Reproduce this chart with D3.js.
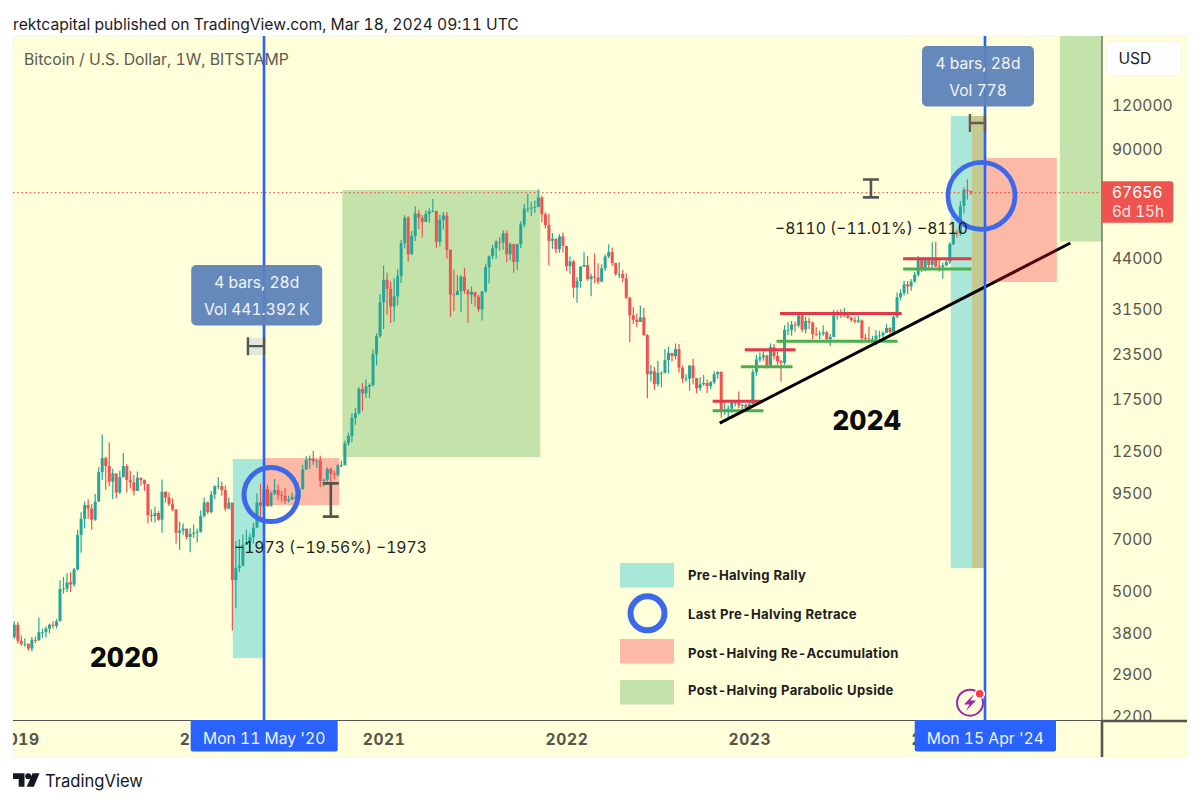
<!DOCTYPE html>
<html><head><meta charset="utf-8">
<script src="https://cdn.jsdelivr.net/npm/d3@7/dist/d3.min.js"></script>
<style>html,body{margin:0;padding:0;background:#fff}svg{display:block}text{font-family:Inter,"Noto Sans",sans-serif;font-variant-numeric:tabular-nums}</style>
</head><body><svg id="c" width="1200" height="804"></svg>
<script>
// weekly candles: [close, high, low]; open = previous close
const firstOpen = 3690;
const candles2019 = [[4000,4090,3650],[3600,4080,3530],[3530,3730,3480],[3530,3660,3460],[3420,3530,3380],[3620,3690,3360],[3610,3700,3550],[3810,4190,3600],[3810,3900,3670],[3900,3950,3680],[4000,4030,3780],[3970,4090,3900],[4090,4150,3900],[5050,5350,4090],[5060,5470,4900],[5280,5600,4950],[5200,5650,4950],[5750,5800,5130],[7200,7450,5700],[8000,8350,6400],[8750,8950,7500],[8550,9090,8000],[7950,8800,7450],[8950,9400,7900],[10850,11200,8950],[11900,13880,10300],[11300,12000,9650],[10200,13200,9900],[10770,11100,9100],[9500,10650,9150],[10500,10950,9400],[11300,12300,10500],[10300,11450,9500],[10150,10950,9750],[9600,10650,9320],[10470,10900,9600],[10300,10450,9950],[10030,10350,9600],[8200,10050,7750],[8150,8500,7850],[8300,8650,7800],[7950,8420,7900],[9550,10350,7300],[9200,9550,8900],[8800,9500,8700],[8500,9150,8400],[7300,8500,6800],[7400,7850,6530],[7500,7750,7200],[7100,7450,6980],[7250,7520,6430],[7300,7700,7050]];
const candles2020 = [[7350,7500,6850],[8150,8450,7300],[8900,9190,8050],[8350,8950,8250],[9370,9600,8300],[9900,9950,9100],[9900,10500,9700],[9650,10200,9300],[8550,9950,8400],[8900,9190,8500],[5350,8200,3850],[5800,6900,4450],[5880,6990,5650],[6750,7200,5850],[6850,7450,6750],[7100,7280,6450],[7550,7800,6800],[8900,9450,7550],[8700,10070,8100],[9700,9950,8200],[8700,10000,8650],[9450,9600,8650],[9650,10380,9350],[9350,10000,9050],[9300,9600,8920],[9000,9800,8820],[9070,9300,8900],[9230,9480,9050],[9160,9300,8900],[9700,9800,9130],[11050,11400,9700],[11750,12050,11000],[11850,12100,11100],[11650,12480,11400],[11700,11800,11150],[10250,12080,9850],[10320,10420,9900],[11080,11200,10200],[10750,11180,10150],[10670,10950,10380],[11350,11450,10550],[11360,11700,11200],[13100,13350,11350],[13750,14050,12900],[15480,15950,13200],[15970,16500,14800],[18700,18950,15800],[18170,19450,16200],[19000,19900,17650],[19200,19400,17650],[23500,24250,19000],[26400,26900,21800]];
const candles2021 = [[33000,34800,26200],[38200,41950,27700],[36000,40000,30400],[32100,37850,28800],[34300,38600,29100],[39200,40950,32300],[48600,49700,37400],[57400,58300,47000],[45200,58000,43000],[50900,52600,45000],[59000,61800,49300],[57400,60600,53300],[55800,58400,50400],[58800,60200,56800],[59800,61100,55500],[60000,64900,59500],[49000,57500,47000],[56600,58500,47500],[58200,59600,53000],[46500,59600,43900],[34700,46700,30000],[34600,40900,31100],[35500,39400,34800],[39000,39400,31000],[35600,41300,34900],[34700,36000,28800],[35300,36600,32700],[34200,35200,32100],[31500,34700,31000],[35400,35500,29300],[41500,42500,35200],[44600,44800,37300],[47000,48100,43700],[49000,49700,43900],[48800,50500,46300],[51800,52900,46600],[45200,52800,42800],[48300,48800,43400],[43000,47400,40000],[48200,48500,40700],[54900,56100,47100],[60900,62900,53900],[60900,67000,59500],[61300,63700,57900],[61500,64200,59200],[65500,69000,62800],[58700,66300,55600],[54700,59500,53500],[49300,59000,42000],[50000,51900,46800],[46700,50200,45500],[50800,51500,45600],[47700,52100,45700]];
const candles2022 = [[41800,47600,40500],[43100,44500,39700],[36300,43500,34000],[37900,38900,32900],[41600,41900,36300],[42100,45800,41700],[38400,44700,38000],[39100,39800,34300],[38800,45400,37400],[37800,42600,37100],[41200,42300,37600],[44500,45100,40500],[45800,48200,44000],[42700,47200,41900],[39700,41500,39200],[39700,42900,38600],[38600,40800,37600],[34000,39900,33700],[30300,34200,25400],[29400,32000,28600],[29000,30600,28000],[29900,32300,29300],[26600,31800,26500],[20600,26800,17600],[21000,21900,19600],[19300,21600,18600],[20800,22500,19000],[20800,21000,18900],[22600,24300,20700],[23700,24700,20700],[23200,23500,22400],[24300,25200,22700],[21500,25100,20800],[20000,21800,19500],[20000,20600,19600],[21800,21900,18500],[20100,22800,19300],[18800,19700,18200],[19300,20200,18500],[19450,20500,19100],[19050,19900,18200],[19550,19700,18700],[20600,21000,19300],[20900,21000,20000],[16300,21000,15500],[16300,17100,15800],[16450,16800,15400],[17100,17400,16000],[17100,17400,16700],[16800,18400,16500],[16850,16950,16300],[16550,16950,16300]];
const candles2023 = [[16950,17300,16500],[20900,21300,17300],[22700,23400,20400],[23000,23800,22300],[23300,24200,22500],[21800,23400,21400],[24600,25200,21500],[23200,25100,22700],[22400,23900,21900],[22200,22600,19600],[27500,28400,21900],[27500,29000,26600],[28500,29200,26500],[28350,29100,27200],[30300,31000,28000],[27600,30500,27100],[29200,30000,26900],[28900,29800,27700],[26800,29100,25900],[26750,28000,26400],[26850,27400,25900],[27100,28400,26500],[25900,27400,25400],[26300,26800,24800],[30500,31400,26300],[30500,31300,29500],[30300,31500,29800],[30300,31800,29900],[29800,30400,29600],[29350,30000,29000],[29050,30000,28700],[29300,30200,28800],[26100,29500,25200],[26000,26800,25400],[25900,28100,25400],[25900,26500,25400],[26500,27500,24900],[26550,27400,26000],[27000,27300,26000],[27900,28600,27200],[27150,28000,26500],[30000,30300,26900],[34100,35200,29700],[35000,35900,33400],[37100,38000,34500],[36600,37900,34800],[37800,38400,35600],[39500,40200,37500],[43800,44700,39000],[41300,44000,40200],[43700,44300,40500],[42100,43700,41300]];
const candles2024 = [[43900,48900,40700],[41700,49000,41500],[41600,43600,40300],[42000,42800,38500],[43000,43900,41800],[48300,48900,42400],[52100,52800,47900],[51700,53000,50500],[62000,64000,50900],[68900,70100,59000],[68400,73800,64600],[67656,68100,66600]];
const firstWeek = "2018-12-31";

const priceTicks = [120000,90000,44000,31500,23500,17500,12500,9500,7000,5000,3800,2900,2200];
const yearTicks = ["2019-01-07","2020-01-06","2021-01-04","2022-01-03","2023-01-02","2024-01-01"];
const lastPrice = 67656;

// annotations in chart units: [date, date, price, price]
const tealZones = [["2020-03-10","2020-05-11",11824,3214],["2024-02-07","2024-03-20",111660,5791]];
const oliveZones = [["2024-03-20","2024-04-15",111660,5791]];
const redZones = [["2020-05-11","2020-10-08",11900,8750],["2024-04-15","2024-09-05",84800,37670]];
const greenZones = [["2020-10-14","2021-11-12",68790,11976],["2024-09-11","2024-12-06",188500,49100]];
const resistance = [["2022-10-21","2023-01-30",17250],["2022-12-24","2023-04-04",24180],["2023-03-04","2023-11-01",30680],["2023-11-04","2024-03-19",43870]];
const support = [["2022-10-21","2023-01-30",16220],["2022-12-16","2023-03-29",21630],["2023-02-25","2023-10-24",25550],["2023-11-04","2024-03-19",41000]];
const trend = [["2022-11-04",14960],["2024-10-02",48620]];
const halvings = ["2020-05-11","2024-04-15"];
const retraces = [["2020-05-25",9370],["2024-04-08",66230]];
const timeSpans = [["2020-04-09","2020-05-11",24760],["2024-03-16","2024-04-15",106660]];
const priceSpans = [["2020-09-21",10087,8114],["2023-09-01",73660,65550]];
const legendItems = ["Pre-Halving Rally","Last Pre-Halving Retrace","Post-Halving Re-Accumulation","Post-Halving Parabolic Upside"];

const D = s => new Date(s + "T00:00:00Z");
const x = d3.scaleUtc().domain([D(halvings[0]), D(halvings[1])]).range([264, 985]);
const y = d3.scaleLog().domain([2200, 120000]).range([716, 105]);

const allCandles = [].concat(candles2019,candles2020,candles2021,candles2022,candles2023,candles2024);
let prev = firstOpen;
const bars = allCandles.map((c,i) => {
  const b = {date:d3.utcMonday.offset(D(firstWeek), i), open:prev, close:c[0], high:c[1], low:c[2]};
  prev = c[0]; return b;
});

const UP = "#26a69a", DOWN = "#ef5350", BG = "#ffffd9", BLUE = "#2962ff", RING = "#3c69ec", GREY = "#555550";
const svg = d3.select("#c");
svg.append("defs").append("clipPath").attr("id","pane").append("rect").attr("x",13).attr("y",36).attr("width",1089).attr("height",685);
svg.select("defs").append("clipPath").attr("id","tax").append("rect").attr("x",13).attr("y",721).attr("width",1089).attr("height",36);

svg.append("text").attr("x",13).attr("y",30).attr("font-size",15.65).attr("fill","#1c1c1c").text("rektcapital published on TradingView.com, Mar 18, 2024 09:11 UTC");
svg.append("rect").attr("x",13).attr("y",36).attr("width",1174).attr("height",721).attr("fill",BG).attr("stroke","#f4f4ec");

const pane = svg.append("g").attr("clip-path","url(#pane)");
const zone = (g, list, fill, op) => g.selectAll(null).data(list).join("rect")
  .attr("x",d=>x(D(d[0]))).attr("width",d=>x(D(d[1]))-x(D(d[0])))
  .attr("y",d=>y(d[2])).attr("height",d=>y(d[3])-y(d[2])).attr("fill",fill).attr("fill-opacity",op||1);

pane.append("text").attr("x",24).attr("y",65).attr("font-size",15.8).attr("fill","#5b5b50").text("Bitcoin / U.S. Dollar, 1W, BITSTAMP");

zone(pane, tealZones, "#a9e8d8");
zone(pane, oliveZones, "#c3c98f");
zone(pane, greenZones, "#c3e3ab");
zone(pane, [redZones[0]], "#fcb9a5");

// last-price dotted line
pane.append("line").attr("x1",13).attr("x2",1102).attr("y1",y(lastPrice)).attr("y2",y(lastPrice))
  .attr("stroke",DOWN).attr("stroke-width",1.2).attr("stroke-dasharray","1.4 2.8");

const hLines = (list, col) => pane.selectAll(null).data(list).join("line")
  .attr("x1",d=>x(D(d[0]))).attr("x2",d=>x(D(d[1]))).attr("y1",d=>y(d[2])).attr("y2",d=>y(d[2]))
  .attr("stroke",col).attr("stroke-width",3);

// candles
const cg = pane.append("g");
cg.selectAll("line").data(bars).join("line")
  .attr("x1",d=>x(d.date)).attr("x2",d=>x(d.date)).attr("y1",d=>y(d.high)).attr("y2",d=>y(d.low))
  .attr("stroke",d=>d.close>=d.open?UP:DOWN).attr("stroke-width",1.2);
cg.selectAll("rect").data(bars).join("rect")
  .attr("x",d=>x(d.date)-1.5).attr("width",3)
  .attr("y",d=>y(Math.max(d.open,d.close))).attr("height",d=>Math.max(0.8,Math.abs(y(d.open)-y(d.close))))
  .attr("fill",d=>d.close>=d.open?UP:DOWN);

hLines(resistance,"#e4374a");
hLines(support,"#4bae4f");

// trend line beneath the translucent red zone
pane.append("line").attr("x1",x(D(trend[0][0]))).attr("y1",y(trend[0][1])).attr("x2",x(D(trend[1][0]))).attr("y2",y(trend[1][1]))
  .attr("stroke","#000").attr("stroke-width",3);
zone(pane, [redZones[1]], "rgb(245,22,46)", 0.3);

// halving lines
pane.selectAll(null).data(halvings).join("line")
  .attr("x1",d=>x(D(d))).attr("x2",d=>x(D(d))).attr("y1",36).attr("y2",721)
  .attr("stroke",BLUE).attr("stroke-width",2.6);

// measure tools
const tsG = pane.append("g");
tsG.append("rect").attr("x",x(D(timeSpans[0][0]))).attr("width",x(D(timeSpans[0][1]))-x(D(timeSpans[0][0])))
  .attr("y",y(timeSpans[0][2])-8).attr("height",17).attr("fill","#dfe9dc");
timeSpans.forEach((s,i)=>{
  const x0=x(D(s[0])), x1=x(D(s[1])), yy=y(s[2]), col=i?"#6b5b4c":GREY;
  tsG.append("path").attr("d",`M${x0},${yy-9}V${yy+9}M${x0},${yy}H${x1}M${x1},${yy-9}V${yy+9}`)
    .attr("fill","none").attr("stroke",col).attr("stroke-width",2.4);
});
priceSpans.forEach(s=>{
  const xx=x(D(s[0])), y0=y(s[1]), y1=y(s[2]);
  pane.append("path").attr("d",`M${xx-8},${y0}H${xx+8}M${xx},${y0}V${y1}M${xx-8},${y1}H${xx+8}`)
    .attr("fill","none").attr("stroke",GREY).attr("stroke-width",2.6);
});

// retrace circles
pane.selectAll(null).data(retraces).join("circle")
  .attr("cx",d=>x(D(d[0]))).attr("cy",d=>y(d[1])).attr("r",(d,i)=>i?33.5:27)
  .attr("fill","none").attr("stroke",RING).attr("stroke-width",(d,i)=>i?4.8:5);

// measure labels
const bubble = (cx, y0, w, l1, l2) => {
  const g = pane.append("g");
  g.append("rect").attr("x",cx-w/2).attr("y",y0).attr("width",w).attr("height",60.5).attr("rx",5)
    .attr("fill","#5c82ba").attr("fill-opacity",0.94);
  g.append("text").attr("x",cx).attr("y",y0+23).attr("text-anchor","middle").attr("font-size",15.6).attr("fill","#f2f5fa").text(l1);
  g.append("text").attr("x",cx).attr("y",y0+49.5).attr("text-anchor","middle").attr("font-size",15.6).attr("fill","#f2f5fa").text(l2);
};
bubble(256.7, 265, 131, "4 bars, 28d", "Vol 441.392\u2009K");
bubble(978, 46, 112, "4 bars, 28d", "Vol 778");

pane.append("text").attr("x",234).attr("y",553).attr("font-size",15.7).attr("fill","#1f1f1f").text("\u22121973 (\u221219.56%) \u22121973");
pane.append("text").attr("x",775).attr("y",234).attr("font-size",15.7).attr("fill","#1f1f1f").text("\u22128110 (\u221211.01%) \u22128110");

pane.append("text").attr("x",124).attr("y",667).attr("text-anchor","middle").attr("font-size",26.6).attr("font-weight",800).attr("fill","#0c0c0c").text("2020");
pane.append("text").attr("x",866.5).attr("y",430).attr("text-anchor","middle").attr("font-size",26.6).attr("font-weight",800).attr("fill","#0c0c0c").text("2024");

// legend
const lg = pane.append("g");
const lgY = [563,null,639,680], lgCol = ["#a9e8d8",null,"#fcb9a5","#c3e3ab"], lgT = [579.5,618.5,657.5,694.5];
lgY.forEach((v,i)=>{ if(v!==null) lg.append("rect").attr("x",620).attr("y",v).attr("width",54).attr("height",24.5).attr("fill",lgCol[i]); });
lg.append("circle").attr("cx",647.5).attr("cy",613.3).attr("r",17).attr("fill","none").attr("stroke",RING).attr("stroke-width",6);
lg.selectAll("text").data(legendItems).join("text").attr("x",688).attr("y",(d,i)=>lgT[i])
  .attr("font-size",13.1).attr("font-weight",700).attr("fill","#1d1d1d").style("letter-spacing","0.28px").text(d=>d);

// alert icon
const ic = pane.append("g");
ic.append("circle").attr("cx",970).attr("cy",702.7).attr("r",13).attr("fill",BG).attr("stroke","#9c27b0").attr("stroke-width",2);
ic.append("path").attr("d","M974,694L964,704.5H969.5L965.5,711.5L976,700.5H970.5Z").attr("fill","#9c27b0");
ic.append("circle").attr("cx",979.7).attr("cy",693.7).attr("r",4.6).attr("fill","#ff3b4a").attr("stroke","#fff").attr("stroke-width",1.6);

// price axis
const pa = svg.append("g").attr("transform","translate(1102,0)")
  .call(d3.axisRight(y).tickValues(priceTicks).tickFormat(d3.format("d")).tickSize(0).tickPadding(10));
pa.select(".domain").remove();
pa.selectAll("text").attr("font-size",15.6).attr("fill","#55554a").attr("font-family",'Inter,"Noto Sans",sans-serif').attr("dy","0.36em");

// time axis
const ta = svg.append("g").attr("clip-path","url(#tax)")
  .append("g").attr("transform","translate(0,724)")
  .call(d3.axisBottom(x).tickValues(yearTicks.map(D)).tickFormat(d3.utcFormat("%Y")).tickSize(0).tickPadding(10));
ta.select(".domain").remove();
ta.selectAll("text").attr("font-size",15.6).attr("font-weight",700).attr("fill","#55554a").attr("font-family",'Inter,"Noto Sans",sans-serif').attr("dy","0.71em").style("letter-spacing","0.6px");

// axis lines
svg.append("rect").attr("x",1103).attr("y",722).attr("width",84).attr("height",35).attr("fill",BG);
svg.append("line").attr("x1",13).attr("x2",1102).attr("y1",720.5).attr("y2",720.5).attr("stroke",GREY).attr("stroke-width",1.2);
svg.append("line").attr("x1",1102).attr("x2",1187).attr("y1",721).attr("y2",721).attr("stroke",GREY).attr("stroke-width",2.4);
svg.append("line").attr("x1",1102).attr("x2",1102).attr("y1",36).attr("y2",721).attr("stroke",GREY).attr("stroke-width",1.2);
svg.append("line").attr("x1",1102).attr("x2",1102).attr("y1",721).attr("y2",757).attr("stroke",GREY).attr("stroke-width",2.6);

// date labels
[[190.7,147,"Mon 11 May '20"],[914.7,141.3,"Mon 15 Apr '24"]].forEach(a=>{
  svg.append("rect").attr("x",a[0]).attr("y",720).attr("width",a[1]).attr("height",31.5).attr("rx",2).attr("fill",BLUE);
  svg.append("text").attr("x",a[0]+a[1]/2).attr("y",743.5).attr("text-anchor","middle").attr("font-size",15.7).attr("fill","#eef3ff").text(a[2]);
});

// currency and last price
svg.append("rect").attr("x",1106.7).attr("y",41.7).attr("width",74.5).attr("height",34).attr("rx",5).attr("fill","#fff").attr("stroke","#f3f3ea");
svg.append("text").attr("x",1118.5).attr("y",64).attr("font-size",15.6).attr("fill","#222").text("USD");
svg.append("path").attr("d","M1101,181.3H1170.3a3,3 0 0 1 3,3V219.7a3,3 0 0 1 -3,3H1101Z").attr("fill",DOWN);
svg.append("text").attr("x",1112).attr("y",198).attr("font-size",15.6).attr("fill","#fff").text(d3.format("d")(lastPrice));
svg.append("text").attr("x",1112).attr("y",217).attr("font-size",15.2).attr("fill","#ffe6e4").text("6d 15h");

// brand
const lgo = svg.append("g").attr("fill","#131722");
lgo.append("path").attr("d","M13,773.3H24.5V786.7H18.7V779H13Z");
lgo.append("circle").attr("cx",28.2).attr("cy",776.3).attr("r",3);
lgo.append("path").attr("d","M32.5,773.3H39.5L33.8,786.7H26.7Z");
svg.append("text").attr("x",45).attr("y",787).attr("font-size",16.6).attr("fill","#131722").text("TradingView");
</script></body></html>
